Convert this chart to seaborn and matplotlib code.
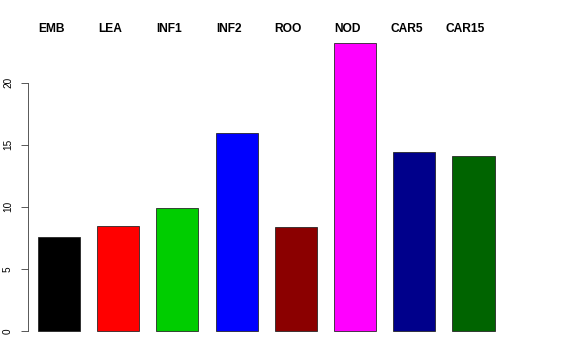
import matplotlib
matplotlib.use("Agg")
import matplotlib.pyplot as plt
import seaborn as sns
import pandas as pd

categories = ["EMB", "LEA", "INF1", "INF2", "ROO", "NOD", "CAR5", "CAR15"]
values = [7.58, 8.47, 9.92, 15.95, 8.40, 23.2, 14.38, 14.12]
colors = ["#000000", "#FF0000", "#00CD00", "#0000FF", "#8B0000", "#FF00FF", "#00008B", "#006400"]
yticks = [0, 5, 10, 15, 20]

sns.set_theme(style="white")
plt.rcParams['font.family'] = ['Liberation Sans', 'DejaVu Sans']

df = pd.DataFrame({"cat": categories, "val": values})

fig = plt.figure(figsize=(8, 5), dpi=72)
ax = fig.add_axes([28/576, (360-342.5)/360, (504.5-28)/576, 311/360])
sns.barplot(data=df, x="cat", y="val", hue="cat", palette=colors, legend=False,
            width=0.71, edgecolor="#222222", linewidth=0.8, saturation=1, ax=ax)

ax.set_xlim(-0.5236, 7.5236)
ax.set_ylim(-0.928, 24.128)
ax.set_xlabel("")
ax.set_ylabel("")
ax.set_xticks([])
for i, cat in enumerate(categories):
    ax.text(i - 0.135, 24.33, cat, ha="center", va="center", fontsize=12,
            fontweight="bold", color="black", clip_on=False)
ax.set_yticks(yticks)
ax.set_yticklabels([str(t) for t in yticks], rotation=90, va="center", fontsize=10, color="black")
ax.tick_params(axis="y", length=7, width=0.8, color="#333333", pad=8, left=True)
for s in ["top", "right", "bottom"]:
    ax.spines[s].set_visible(False)
ax.spines["left"].set_bounds(0, 20)
ax.spines["left"].set_color("#333333")
ax.spines["left"].set_linewidth(0.8)
ax.set_facecolor("white")
fig.patch.set_facecolor("white")

fig.savefig("out.png", dpi=72)
